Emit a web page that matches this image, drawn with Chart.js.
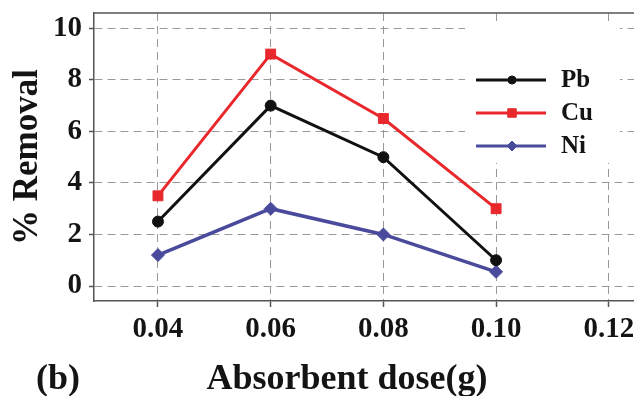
<!DOCTYPE html>
<html>
<head>
<meta charset="utf-8">
<script src="https://cdn.jsdelivr.net/npm/chart.js@4.4.0/dist/chart.umd.min.js"></script>
<style>
  html, body { margin: 0; padding: 0; background: #fff; }
  .wrap { width: 634px; height: 396px; overflow: hidden; position: relative; }
  canvas { display: block; }
</style>
</head>
<body>
<div class="wrap">
  <canvas id="removalChart" width="694" height="396"></canvas>
</div>
<script>
// data
const doses = [0.04, 0.06, 0.08, 0.10];
const pbRemoval = [2.5, 7, 5, 1];
const cuRemoval = [3.5, 9, 6.5, 3];
const niRemoval = [1.2, 3, 2, 0.55];
const xTicks = [0.04, 0.06, 0.08, 0.10, 0.12];
const yTicks = [0, 2, 4, 6, 8, 10];
const seriesNames = ['Pb', 'Cu', 'Ni'];

const serif = "'Liberation Serif', 'Times New Roman', serif";
const ink = '#141414';
const gridGray = '#9c9898';
const axisGray = '#555';

const toPoints = (vals) => doses.map((d, i) => ({ x: d, y: vals[i] }));

// white legend box sitting inside the plot, plus the "(b)" tag and x title
const extras = {
  id: 'extras',
  beforeDatasetsDraw(chart) {
    const { ctx, chartArea } = chart;
    ctx.save();
    // top frame line
    ctx.strokeStyle = axisGray;
    ctx.lineWidth = 1.5;
    ctx.beginPath();
    ctx.moveTo(chartArea.left, chartArea.top);
    ctx.lineTo(chartArea.right, chartArea.top);
    ctx.stroke();
    // legend backdrop hides the grid
    ctx.fillStyle = '#fff';
    ctx.fillRect(chartArea.left + 371, chartArea.top + 11, 155, 139);
    ctx.restore();
  },
  afterDatasetsDraw(chart) {
    const { ctx, chartArea } = chart;
    ctx.save();
    chart.data.datasets.forEach((ds, i) => {
      const y = chartArea.top + 67 + i * 33;
      const x0 = chartArea.left + 382;
      ctx.strokeStyle = ds.borderColor;
      ctx.lineWidth = 3;
      ctx.beginPath();
      ctx.moveTo(x0, y);
      ctx.lineTo(x0 + 70, y);
      ctx.stroke();
      ctx.fillStyle = ds.borderColor;
      ctx.strokeStyle = ds.borderColor;
      ctx.lineWidth = 1;
      Chart.helpers.drawPoint(ctx, { pointStyle: ds.pointStyle, radius: ds.legendRadius, borderWidth: 1 }, x0 + 36, y);
      ctx.fillStyle = ink;
      ctx.font = 'bold 25px ' + serif;
      ctx.textAlign = 'left';
      ctx.textBaseline = 'middle';
      ctx.fillText(ds.label, x0 + 85, y + 1);
    });

    ctx.font = 'bold 36px ' + serif;
    ctx.fillStyle = ink;
    ctx.textBaseline = 'alphabetic';
    ctx.textAlign = 'left';
    ctx.fillText('(b)', 36, 389);
    ctx.textAlign = 'center';
    ctx.fillText('Absorbent dose(g)', 347, 389);
    ctx.restore();
  }
};

new Chart(document.getElementById('removalChart').getContext('2d'), {
  type: 'line',
  data: {
    datasets: [
      {
        label: seriesNames[0],
        data: toPoints(pbRemoval),
        borderColor: '#111111',
        backgroundColor: '#111111',
        borderWidth: 3,
        pointStyle: 'circle',
        pointRadius: 5.5,
        legendRadius: 4,
        pointBorderWidth: 1
      },
      {
        label: seriesNames[1],
        data: toPoints(cuRemoval),
        borderColor: '#e8282c',
        backgroundColor: '#e8282c',
        borderWidth: 3,
        pointStyle: 'rect',
        pointRadius: 7,
        legendRadius: 6,
        pointBorderWidth: 1
      },
      {
        label: seriesNames[2],
        data: toPoints(niRemoval),
        borderColor: '#4a4a9c',
        backgroundColor: '#4a4a9c',
        borderWidth: 3.5,
        pointStyle: 'rectRot',
        pointRadius: 6.5,
        legendRadius: 5,
        pointBorderWidth: 1
      }
    ]
  },
  options: {
    responsive: false,
    animation: false,
    devicePixelRatio: 1,
    layout: { padding: { top: 13, left: 0, right: 0, bottom: 0 } },
    plugins: {
      legend: { display: false },
      tooltip: { enabled: false }
    },
    scales: {
      x: {
        type: 'linear',
        min: 0.02865,
        max: 0.1337,
        afterBuildTicks: (scale) => { scale.ticks = xTicks.map(v => ({ value: v })); },
        afterFit: (scale) => {
          scale.height = 95;
          scale.paddingLeft = 0;
          scale.paddingRight = 0;
        },
        grid: { color: gridGray, lineWidth: 1, tickLength: 6, tickColor: axisGray, tickWidth: 1.5 },
        border: { color: axisGray, width: 1.5, dash: [8, 5] },
        ticks: {
          color: ink,
          padding: 5,
          font: { family: serif, size: 29, weight: 'bold' },
          callback: (v) => v.toFixed(2)
        }
      },
      y: {
        min: -0.582,
        max: 10.594,
        afterBuildTicks: (scale) => { scale.ticks = yTicks.map(v => ({ value: v })); },
        afterFit: (scale) => {
          scale.width = 94;
          scale.paddingTop = 0;
          scale.paddingBottom = 0;
        },
        grid: { color: gridGray, lineWidth: 1, tickLength: 5, tickColor: axisGray, tickWidth: 1.5 },
        border: { color: axisGray, width: 1.5, dash: [8, 5] },
        ticks: {
          color: ink,
          padding: 7,
          font: { family: serif, size: 29, weight: 'bold' },
          callback: (v) => String(v)
        },
        title: {
          display: true,
          text: '% Removal',
          color: ink,
          padding: { top: 7, bottom: 0 },
          font: { family: serif, size: 35, weight: 'bold', lineHeight: 1.2 }
        }
      }
    }
  },
  plugins: [extras]
});
</script>
</body>
</html>
